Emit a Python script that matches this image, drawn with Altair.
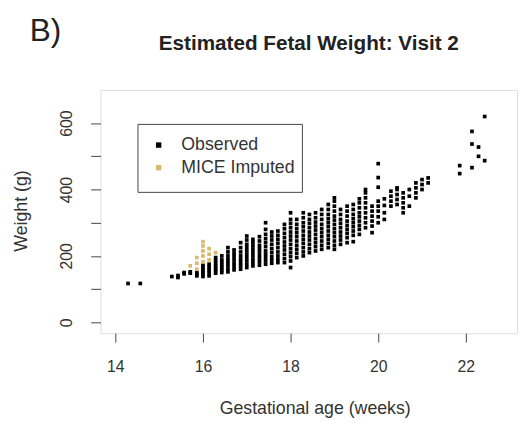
import altair as alt
import pandas as pd

# Observed: gestational-age columns (weeks) and the weights (g) read in each column
obs_ga = [14.29, 14.57, 15.29, 15.43, 15.57, 15.71, 15.86,
          16.0, 16.14, 16.29, 16.43, 16.57, 16.71, 16.86,
          17.0, 17.14, 17.29, 17.43, 17.57, 17.71, 17.86,
          18.0, 18.14, 18.29, 18.43, 18.57, 18.71, 18.86,
          19.0, 19.14, 19.29, 19.43, 19.57, 19.71, 19.86,
          20.0, 20.14, 20.29, 20.43, 20.57, 20.71, 20.86,
          21.0, 21.14, 21.86, 22.14, 22.29, 22.43]
obs_wt = [
    [117], [117], [138], [135, 141], [146, 150], [148, 152], [140, 145, 150],
    [138, 145, 152, 158, 165, 172],
    [140, 150, 158, 166, 175],
    [148, 155, 162, 170, 178, 186, 195],
    [150, 158, 165, 173, 180, 188, 200],
    [152, 160, 170, 180, 190, 200, 212, 225],
    [158, 168, 178, 188, 198, 208, 218],
    [160, 170, 180, 190, 200, 212, 225, 240],
    [165, 175, 185, 195, 205, 215, 225, 235, 248, 260],
    [170, 180, 190, 200, 210, 220, 230, 240, 250],
    [172, 182, 192, 202, 212, 222, 232, 245, 258],
    [175, 185, 195, 205, 215, 228, 240, 252, 265, 280, 300],
    [178, 188, 198, 210, 222, 235, 248, 260, 272],
    [180, 190, 200, 212, 225, 238, 250, 262, 275],
    [180, 192, 205, 218, 230, 242, 255, 268, 282, 295],
    [165, 185, 198, 210, 222, 235, 248, 260, 272, 285, 298, 310, 330],
    [195, 208, 220, 232, 245, 258, 270, 282, 295, 310],
    [200, 212, 225, 238, 250, 262, 275, 288, 300, 315, 330],
    [210, 222, 235, 248, 260, 272, 285, 298, 310, 325],
    [215, 228, 240, 252, 265, 278, 290, 302, 315, 330],
    [220, 232, 245, 258, 270, 282, 295, 310, 325, 340],
    [225, 238, 250, 262, 275, 288, 300, 312, 325, 340, 355],
    [220, 232, 245, 258, 270, 282, 295, 308, 320, 335, 350, 365, 375],
    [235, 248, 260, 272, 285, 298, 310, 325, 340],
    [240, 255, 268, 280, 292, 305, 320, 335, 350],
    [243, 262, 275, 288, 300, 312, 325, 340, 355],
    [265, 280, 292, 305, 318, 330, 345, 360, 372],
    [285, 300, 315, 330, 345, 360, 375, 390, 400],
    [270, 290, 305, 320, 335, 350],
    [300, 318, 335, 350, 365, 407, 436, 478],
    [310, 330, 352, 372],
    [350, 365, 380, 395],
    [355, 370, 385, 400, 405],
    [330, 345, 360, 375, 390],
    [350, 380, 400],
    [375, 390, 405, 420],
    [400, 415, 430],
    [420, 435],
    [448, 472],
    [466, 537, 575],
    [500, 528],
    [487, 620],
]

# MICE imputed points
imp_ga = [15.71, 15.86, 15.86, 15.86, 16.0, 16.0, 16.0, 16.0, 16.0, 16.14, 16.14, 16.14, 16.29]
imp_wt = [170, 160, 178, 195, 182, 200, 215, 230, 243, 188, 205, 222, 210]

series = ["Observed", "MICE Imputed"]
colors = ["#000000", "#D9BA6C"]

rows = []
for g, ws in zip(obs_ga, obs_wt):
    for w in ws:
        rows.append({"ga": g, "wt": w, "type": series[0], "ord": 0})
for g, w in zip(imp_ga, imp_wt):
    rows.append({"ga": g, "wt": w, "type": series[1], "ord": 1})
df = pd.DataFrame(rows)

FONT = "Liberation Sans"
one = pd.DataFrame({"a": [0]})

box = alt.Chart(one).mark_rect(fill="white", stroke="#444", strokeWidth=1).encode(
    x=alt.value(38), x2=alt.value(205), y=alt.value(35), y2=alt.value(104)
)

points = alt.Chart(df).mark_square(size=14, opacity=1).encode(
    x=alt.X("ga:Q",
            scale=alt.Scale(domain=[13.663, 23.169], nice=False, zero=False),
            axis=alt.Axis(values=[14, 16, 18, 20, 22], title=None, grid=False, domain=False,
                          tickSize=9, tickColor="#444", labelFontSize=16, labelPadding=17,
                          labelColor="#333", labelFont=FONT, labelFlush=False)),
    y=alt.Y("wt:Q",
            scale=alt.Scale(domain=[-32.6, 700], nice=False, zero=False),
            axis=alt.Axis(values=[0, 100, 200, 300, 400, 500, 600], title=None, grid=False,
                          domain=False, tickSize=10, tickColor="#444",
                          labelExpr="datum.value % 200 === 0 ? datum.label : ''",
                          labelAngle=270, labelAlign="center", labelBaseline="bottom",
                          labelFontSize=16, labelPadding=17, labelColor="#333",
                          labelFont=FONT, labelFlush=False, labelOverlap=False)),
    color=alt.Color("type:N", scale=alt.Scale(domain=series, range=colors),
                    legend=alt.Legend(title=None, orient="none", legendX=50, legendY=47,
                                      symbolType="square", symbolSize=30, symbolStrokeWidth=0,
                                      labelFontSize=18, labelFont=FONT, labelColor="#333",
                                      rowPadding=5, labelOffset=14, padding=0)),
    order=alt.Order("ord:Q"),
)

title = alt.Chart(one).mark_text(fontSize=21, fontWeight="bold", font=FONT, color="#222",
                                 align="center", baseline="middle").encode(
    x=alt.value(211.5), y=alt.value(-47), text=alt.value("Estimated Fetal Weight: Visit 2"))
panel = alt.Chart(one).mark_text(fontSize=32, font=FONT, color="#222",
                                 align="center", baseline="middle").encode(
    x=alt.value(-56), y=alt.value(-60), text=alt.value("B)"))
xtitle = alt.Chart(one).mark_text(fontSize=18, font=FONT, color="#333",
                                  align="center", baseline="middle").encode(
    x=alt.value(218), y=alt.value(324), text=alt.value("Gestational age (weeks)"))
ytitle = alt.Chart(one).mark_text(fontSize=18, font=FONT, color="#333", angle=270,
                                  align="center", baseline="middle").encode(
    x=alt.value(-80), y=alt.value(123), text=alt.value("Weight (g)"))

chart = alt.layer(box, points, title, panel, xtitle, ytitle).properties(
    width=423, height=247,
    autosize=alt.AutoSizeParams(type="none"),
    padding={"left": 94, "top": 80, "right": 4, "bottom": 86},
).configure_view(stroke="#555", strokeWidth=1).configure(background="white")

chart.save("out.html", embed_options={"renderer": "svg", "actions": False})
